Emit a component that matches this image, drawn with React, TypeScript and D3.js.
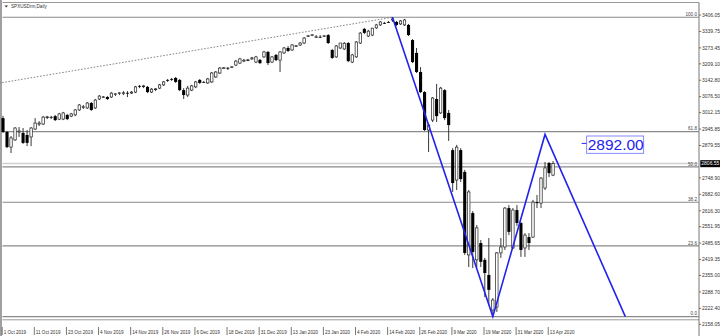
import React, { useEffect } from "react";
import * as d3 from "d3";

const W = 720;
const H = 336;

const chartTitle = "SPXUSDrm,Daily";
const dateLabels = [
  "1 Oct 2019", "11 Oct 2019", "23 Oct 2019", "4 Nov 2019", "14 Nov 2019", "26 Nov 2019",
  "6 Dec 2019", "18 Dec 2019", "31 Dec 2019", "13 Jan 2020", "23 Jan 2020", "4 Feb 2020",
  "14 Feb 2020", "26 Feb 2020", "9 Mar 2020", "19 Mar 2020", "31 Mar 2020", "13 Apr 2020",
];
const barsPerDateLabel = 8;
const priceTicks = [
  3406.05, 3339.75, 3273.45, 3209.1, 3142.8, 3076.5, 3012.15, 2945.85, 2879.55,
  2748.9, 2682.6, 2616.3, 2551.95, 2485.65, 2419.35, 2355.0, 2288.7, 2222.4, 2158.05,
];

const opens = [
  2990, 2934, 2873, 2902, 2934, 2930, 2922, 2914, 2946, 2966,
  2966, 2994, 2995, 2998, 2986, 2986, 3003, 2998, 3003, 3023,
  3035, 3031, 3051, 3031, 3067, 3075, 3075, 3075, 3087, 3091,
  3091, 3092, 3091, 3095, 3120, 3119, 3116, 3095, 3107, 3111,
  3124, 3144, 3148, 3152, 3144, 3103, 3083, 3103, 3116, 3144,
  3136, 3132, 3136, 3156, 3172, 3192, 3193, 3196, 3204, 3212,
  3220, 3224, 3229, 3216, 3225, 3237, 3257, 3216, 3245, 3224,
  3253, 3273, 3265, 3281, 3285, 3293, 3321, 3325, 3317, 3318,
  3321, 3325, 3265, 3237, 3273, 3269, 3293, 3216, 3237, 3293,
  3350, 3321, 3325, 3354, 3366, 3374, 3378, 3386, 3378, 3370,
  3366, 3366, 3305, 3253, 3176, 3095, 2942, 2982, 3067, 3011,
  3103, 3011, 2861, 2740, 2861, 2773, 2438, 2607, 2418, 2486,
  2418, 2357, 2216, 2228, 2446, 2470, 2627, 2466, 2619, 2567,
  2466, 2510, 2510, 2651, 2647, 2708, 2809, 2760,
];
const highs = [
  2999, 2938, 2918, 2954, 2954, 2950, 2942, 2954, 2990, 2978,
  2999, 2999, 2999, 3003, 3011, 3015, 3007, 3011, 3027, 3047,
  3043, 3055, 3055, 3067, 3083, 3079, 3079, 3095, 3091, 3095,
  3099, 3099, 3099, 3120, 3124, 3124, 3120, 3111, 3111, 3128,
  3140, 3148, 3152, 3156, 3148, 3111, 3120, 3124, 3140, 3148,
  3140, 3152, 3176, 3180, 3196, 3196, 3196, 3200, 3225, 3233,
  3229, 3229, 3237, 3241, 3229, 3261, 3261, 3241, 3249, 3261,
  3277, 3281, 3289, 3285, 3297, 3317, 3325, 3329, 3325, 3325,
  3325, 3329, 3269, 3285, 3293, 3297, 3297, 3249, 3301, 3337,
  3354, 3346, 3354, 3370, 3382, 3378, 3382, 3398, 3382, 3386,
  3390, 3370, 3309, 3273, 3196, 3099, 2970, 3075, 3128, 3116,
  3107, 3023, 2869, 2882, 2869, 2781, 2700, 2615, 2559, 2498,
  2426, 2506, 2264, 2450, 2506, 2631, 2639, 2627, 2639, 2571,
  2526, 2526, 2660, 2680, 2752, 2813, 2813, 2817,
];
const lows = [
  2930, 2869, 2849, 2898, 2914, 2886, 2877, 2877, 2942, 2958,
  2962, 2986, 2986, 2978, 2982, 2982, 2982, 2994, 2998, 3019,
  3027, 3027, 3019, 3027, 3063, 3071, 3063, 3071, 3079, 3083,
  3083, 3075, 3087, 3091, 3111, 3111, 3091, 3091, 3099, 3107,
  3120, 3136, 3140, 3132, 3099, 3067, 3075, 3099, 3111, 3128,
  3132, 3128, 3132, 3152, 3168, 3188, 3184, 3192, 3200, 3208,
  3216, 3220, 3225, 3212, 3208, 3233, 3204, 3212, 3220, 3176,
  3249, 3257, 3261, 3277, 3281, 3289, 3317, 3321, 3313, 3313,
  3317, 3289, 3229, 3233, 3269, 3265, 3216, 3212, 3233, 3289,
  3329, 3317, 3321, 3350, 3362, 3370, 3374, 3378, 3362, 3366,
  3362, 3321, 3212, 3172, 3091, 2938, 2853, 2974, 2974, 3007,
  2982, 2898, 2692, 2700, 2732, 2438, 2389, 2385, 2389, 2389,
  2268, 2236, 2188, 2208, 2426, 2458, 2518, 2462, 2555, 2430,
  2430, 2458, 2506, 2627, 2627, 2700, 2752, 2756,
];
const closes = [
  2934, 2873, 2910, 2950, 2938, 2890, 2890, 2950, 2970, 2970,
  2994, 2995, 2994, 2982, 3007, 3011, 2986, 3007, 3023, 3043,
  3036, 3051, 3023, 3063, 3079, 3076, 3067, 3091, 3088, 3092,
  3092, 3091, 3095, 3116, 3119, 3120, 3095, 3107, 3108, 3124,
  3136, 3143, 3147, 3136, 3103, 3083, 3111, 3120, 3136, 3132,
  3135, 3148, 3172, 3176, 3192, 3193, 3192, 3197, 3220, 3229,
  3224, 3225, 3233, 3237, 3212, 3257, 3212, 3237, 3224, 3257,
  3273, 3261, 3285, 3282, 3293, 3313, 3322, 3326, 3318, 3317,
  3322, 3293, 3233, 3281, 3293, 3292, 3220, 3245, 3297, 3333,
  3334, 3341, 3353, 3366, 3378, 3373, 3377, 3390, 3366, 3382,
  3386, 3325, 3216, 3176, 3095, 2942, 2962, 3071, 2998, 3111,
  2990, 2962, 2728, 2873, 2744, 2446, 2692, 2450, 2547, 2410,
  2365, 2297, 2256, 2446, 2470, 2627, 2531, 2619, 2567, 2458,
  2518, 2486, 2651, 2647, 2748, 2789, 2768, 2806.55,
];

const lastPriceText = "2806.55";
const fibLevels = [0, 23.6, 38.2, 50.0, 61.8, 100.0];
const fibLow = 2189;
const fibHigh = 3397;
const fibTrendPoints = [
  { bar: -1, price: 3131 },
  { bar: 97, price: 3397 },
];
const zigzagPoints = [
  { bar: 97, price: 3397 },
  { bar: 122, price: 2189 },
  { bar: 135, price: 2924 },
  { bar: 155, price: 2189 },
];
const targetLabel = { bar: 145, price: 2892, text: "2892.00" };

const BLUE = "#2222ee";
const FONT = "'Liberation Sans', Arial, sans-serif";

export default function App() {
  useEffect(() => {
    document.body.style.margin = "0";
  }, []);

  const x = d3.scaleLinear().domain([0, 137]).range([3, 3 + 137 * 4.015]);
  const y = d3.scaleLinear().domain([2158.05, 3406.05]).range([324.3, 15]);

  const plotL = 2.5;
  const plotR = 699;
  const plotT = 2.5;
  const plotB = 319.8;

  const lastClose = closes[closes.length - 1];
  const yLast = y(lastClose);

  const line = d3
    .line<{ bar: number; price: number }>()
    .x((d) => x(d.bar))
    .y((d) => y(d.price));

  const bodyW = 2.4;

  return (
    <svg
      width={W}
      height={H}
      style={{ display: "block", position: "absolute", left: 0, top: 0, background: "#fff" }}
      fontFamily={FONT}
    >
      <rect x={0} y={0} width={W} height={H} fill="#fff" />
      {/* left bar */}
      <rect x={0} y={0} width={2} height={H} fill="#a0a0a0" />

      {/* frame */}
      <line x1={plotL} x2={plotR} y1={plotT} y2={plotT} stroke="#9a9a9a" strokeWidth={1} />
      <line x1={plotL} x2={plotR} y1={plotB} y2={plotB} stroke="#9a9a9a" strokeWidth={1} />
      <line x1={plotR} x2={plotR} y1={plotT} y2={H} stroke="#777" strokeWidth={1} />

      {/* title */}
      <path d="M4.5,5.5 L8,5.5 L6.25,7.5 Z" fill="#333" />
      <text x={11} y={8.4} fontSize={4.6} fill="#333">
        {chartTitle}
      </text>

      {/* bid line */}
      <line x1={plotL} x2={plotR} y1={yLast} y2={yLast} stroke="#cfcfcf" strokeWidth={1.5} />

      {/* fib levels */}
      {fibLevels.map((lv) => {
        const p = fibLow + ((fibHigh - fibLow) * lv) / 100;
        const yy = y(p);
        return (
          <g key={lv}>
            <line x1={plotL} x2={plotR} y1={yy} y2={yy} stroke="#8a8a8a" strokeWidth={1.2} />
            <text x={697} y={yy - 1.3} fontSize={4.6} fill="#444" textAnchor="end">
              {lv.toFixed(1)}
            </text>
          </g>
        );
      })}

      {/* fib trend dashed line */}
      <path d={line(fibTrendPoints) || ""} fill="none" stroke="#666" strokeWidth={0.8} strokeDasharray="1.6,1.6" />

      {/* candles */}
      {opens.map((o, i) => {
        const c = closes[i];
        const cx = x(i);
        const yo = y(o);
        const yc = y(c);
        const top = Math.min(yo, yc);
        const h = Math.max(Math.abs(yo - yc), 0.8);
        const bull = c >= o;
        return (
          <g key={i}>
            <line x1={cx} x2={cx} y1={y(highs[i])} y2={y(lows[i])} stroke="#222" strokeWidth={0.9} />
            {bull ? (
              <rect x={cx - bodyW / 2} y={top} width={bodyW} height={h} fill="#fff" stroke="#222" strokeWidth={0.7} />
            ) : (
              <rect x={cx - bodyW / 2 - 0.35} y={top} width={bodyW + 0.7} height={h} fill="#000" />
            )}
          </g>
        );
      })}

      {/* zigzag */}
      <path d={line(zigzagPoints) || ""} fill="none" stroke={BLUE} strokeWidth={1.6} />

      {/* target label */}
      {(() => {
        const lx = x(targetLabel.bar);
        const ly = y(targetLabel.price);
        return (
          <g>
            <line x1={lx - 3.5} x2={lx + 1.5} y1={ly + 1} y2={ly + 1} stroke={BLUE} strokeWidth={1} />
            <rect x={lx + 1.5} y={ly - 6.4} width={57} height={17.3} fill="none" stroke="#6a6aff" strokeWidth={0.8} />
            <text x={lx + 2.5} y={ly + 7.8} fontSize={15.5} fill={BLUE}>
              {targetLabel.text}
            </text>
          </g>
        );
      })()}

      {/* price axis */}
      {priceTicks.map((p) => {
        const yy = y(p);
        return (
          <g key={p}>
            <line x1={plotR} x2={plotR + 2.2} y1={yy} y2={yy} stroke="#555" strokeWidth={0.8} />
            <text x={702} y={yy + 1.8} fontSize={5} fill="#333">
              {p.toFixed(2)}
            </text>
          </g>
        );
      })}
      <rect x={700.3} y={yLast - 3.4} width={19.7} height={7} fill="#000" />
      <text x={701.3} y={yLast + 1.8} fontSize={5} fill="#fff">
        {lastPriceText}
      </text>

      {/* date axis */}
      {dateLabels.map((lab, k) => {
        const xx = x(k * barsPerDateLabel) - 0.8;
        return (
          <g key={lab}>
            <line x1={xx} x2={xx} y1={327} y2={335} stroke="#555" strokeWidth={0.8} />
            <text x={xx + 1.5} y={333.6} fontSize={4.6} fill="#333">
              {lab}
            </text>
          </g>
        );
      })}
    </svg>
  );
}
